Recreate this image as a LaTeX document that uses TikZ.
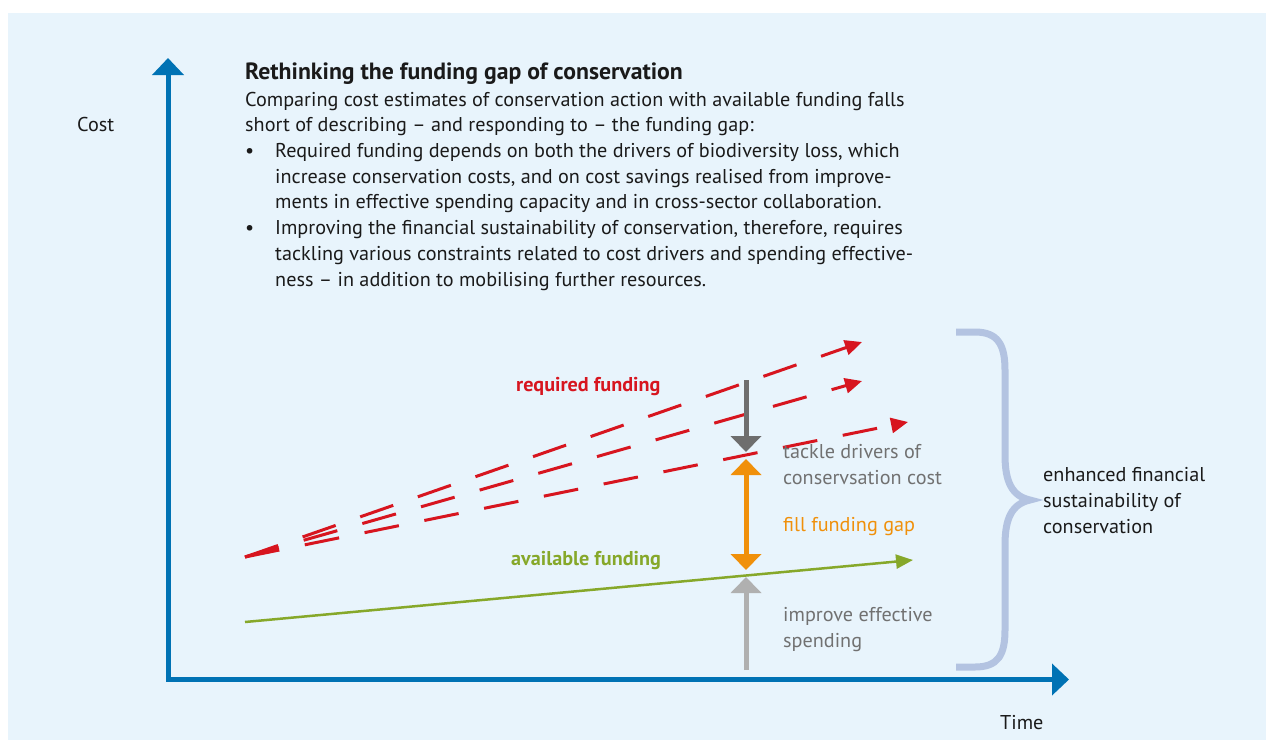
\documentclass[tikz,border=0pt]{standalone}
\usepackage{fontspec}
\setmainfont{PT Sans}[FakeStretch=1.01]
\usetikzlibrary{arrows.meta,positioning}

\definecolor{panelbg}{HTML}{E8F4FC}
\definecolor{axisblue}{HTML}{0072B4}
\definecolor{reqred}{HTML}{D7151F}
\definecolor{availgreen}{HTML}{86A82A}
\definecolor{gaporange}{HTML}{F0900A}
\definecolor{darkgrey}{HTML}{6E6E6E}
\definecolor{lightgrey}{HTML}{B0B0B0}
\definecolor{greytext}{HTML}{717171}
\definecolor{bracecol}{HTML}{B3C3E1}
\definecolor{inktext}{HTML}{1A1A1A}

\begin{document}
\begin{tikzpicture}[x=1pt,y=-1pt,>=Triangle,font=\fontsize{20}{25.7}\selectfont,text=inktext]
  \tikzstyle{txt}=[inner sep=0,anchor=base west,align=left]
  \tikzstyle{axis}=[line width=5pt,draw=axisblue,{Triangle[width=31pt,length=17pt]}-{Triangle[width=31pt,length=17pt]}]
  \tikzstyle{reqline}=[draw=reqred,line width=3pt,dash pattern=on 35pt off 26pt,-{Triangle[width=15pt,length=17pt]}]
  \tikzstyle{effect}=[line width=5pt,-{Triangle[width=30pt,length=16pt]}]

  % panel
  \fill[white] (0,0) rectangle (1266,740);
  \fill[panelbg] (8,13) rectangle (1266,740);
  \useasboundingbox (0,0) rectangle (1266,740);

  % axes
  \coordinate (origin) at (168,679.5);
  \coordinate (ytip) at (168,58);
  \coordinate (xtip) at (1069,679.5);
  \draw[axis] (ytip) -- (origin) -- (xtip);
  \node[txt] (costlbl) at (77,131) {Cost};
  \node[txt] (timelbl) at (1000,729) {Time};

  % heading and text (multi-line nodes sit on their last baseline)
  \node[txt,font=\fontsize{23.5}{26}\selectfont\bfseries] (title) at (245,79) {Rethinking the funding gap of conservation};
  \node[txt] (intro) at (245,286) {Comparing cost estimates of conservation action with available funding falls\\
    short of describing -- and responding to -- the funding gap:\\
    \makebox[30pt][l]{\textbullet}Required funding depends on both the drivers of biodiversity loss, which\\
    \hspace*{30pt}increase conservation costs, and on cost savings realised from improve-\\
    \hspace*{30pt}ments in effective spending capacity and in cross-sector collaboration.\\
    \makebox[30pt][l]{\textbullet}Improving the financial sustainability of conservation, therefore, requires\\
    \hspace*{30pt}tackling various constraints related to cost drivers and spending effective-\\
    \hspace*{30pt}ness -- in addition to mobilising further resources.};

  % funding curves
  \coordinate (start) at (245,557);
  \coordinate (req1) at (862,342);
  \coordinate (req2) at (862,381);
  \coordinate (req3) at (908,422);
  \draw[reqline] (start) -- (req1);
  \draw[reqline] (start) -- (req2);
  \draw[reqline] (start) -- (req3);
  \node[txt,font=\fontsize{20}{25.7}\selectfont\bfseries,text=reqred] (reqlbl) at (516,391) {required funding};

  \coordinate (availstart) at (245,622);
  \coordinate (availend) at (913,560);
  \draw[availgreen,line width=2.5pt,-{Triangle[width=14pt,length=17pt]}] (availstart) -- (availend);
  \node[txt,font=\fontsize{20}{25.7}\selectfont\bfseries,text=availgreen] (availlbl) at (511,565) {available funding};

  % levers on the gap
  \coordinate (drvtop) at (746,380);
  \coordinate (drvtip) at (746,452);
  \coordinate (gaptop) at (746,459);
  \coordinate (gapbot) at (746,570);
  \coordinate (spdbot) at (746,670);
  \coordinate (spdtip) at (746,577);
  \draw[effect,draw=darkgrey,fill=darkgrey] (drvtop) -- (drvtip);
  \draw[effect,draw=gaporange,{Triangle[width=30pt,length=16pt]}-{Triangle[width=30pt,length=16pt]}] (gaptop) -- (gapbot);
  \draw[effect,draw=lightgrey] (spdbot) -- (spdtip);

  \node[txt,text=greytext] (tacklelbl) at (783,484) {tackle drivers of\\conservsation cost};
  \node[txt,text=gaporange] (filllbl) at (783,531) {fill funding gap};
  \node[txt,text=greytext] (improvelbl) at (783,647) {improve effective\\spending};

  % brace
  \draw[bracecol,line width=7pt] (956,332) -- (975,332)
    .. controls (998,332) and (1005,345) .. (1005,370) -- (1005,455)
    .. controls (1005,482) and (1012,496) .. (1030,500)
    .. controls (1012,504) and (1005,518) .. (1005,545) -- (1005,630)
    .. controls (1005,655) and (998,667) .. (975,667) -- (956,667);
  \node[txt] (enhancedlbl) at (1043,533) {enhanced financial\\sustainability of\\conservation};
\end{tikzpicture}
\end{document}
